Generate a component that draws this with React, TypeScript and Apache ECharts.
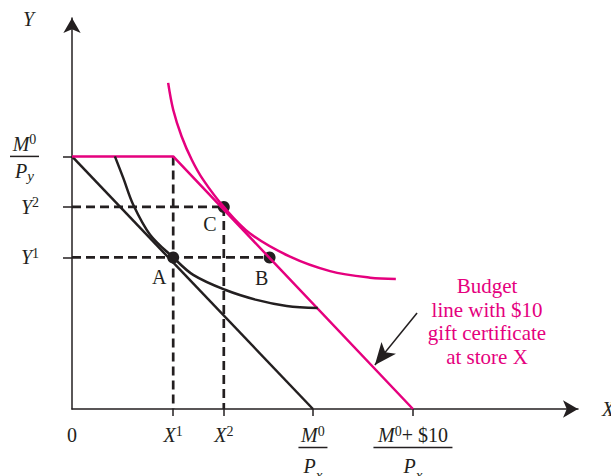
import React, { useEffect, useRef } from 'react';
import * as echarts from 'echarts';

const INK = '#231f20';
const MAGENTA = '#e5007e';
const FONT = 'Liberation Serif';

const X_MAX = 21.0;
const Y_MAX = 15.48;

const X_TICK_VALUES = [4.2, 6.3, 10, 14.15];
const X_LABEL_VALUES = [0, 4.2, 6.3, 10, 14.15];
const X_LABEL_TEXTS = [
  '{n|0}',
  '{i|X}{sup|1}',
  '{i|X}{sup|2}',
  '{i|M}{sup|0}\n{bar|}\n{d|P}{sub|x}',
  '{i|M}{sup|0}{n|+ $10}\n{barW|}\n{d|P}{sub|x}',
];
const Y_TICK_VALUES = [6, 8, 10];
const Y_LABEL_TEXTS = [
  '{i|Y}{sup|1}',
  '{i|Y}{sup|2}',
  '{sp| }\n{i|M}{sup|0}\n{bar|}\n{d|P}{sub|y}',
];

const BUDGET_ORIGINAL = [[0, 10], [10, 0]];
const BUDGET_GIFT = [[0, 10], [4.2, 10], [14.15, 0]];
const INDIFF_1 = [
  [1.78, 10.0], [2.13, 9.14], [2.54, 8.09], [3.24, 6.9], [4.2, 6.0],
  [5.03, 5.31], [6.35, 4.72], [7.66, 4.32], [8.91, 4.08], [10.2, 4.0],
];
const INDIFF_2 = [
  [3.99, 12.91], [4.2, 11.85], [4.55, 10.79], [4.97, 9.87], [5.44, 9.08],
  [6.3, 8.0], [7.39, 6.95], [9.05, 6.03], [10.71, 5.46], [12.37, 5.2], [13.44, 5.15],
];
const DASH_X1 = [[4.2, 10], [4.2, 0]];
const DASH_X2 = [[6.3, 8], [6.3, 0]];
const DASH_Y2 = [[0, 8], [6.3, 8]];
const DASH_Y1 = [[0, 6], [8.2, 6]];
const POINT_NAMES = ['A', 'B', 'C'];
const POINT_VALUES = [[4.2, 6], [8.2, 6], [6.3, 8]];
const POINT_LABEL_OFFSETS = [[-14, 20], [-8, 21], [-14, 17]];
const ARROW = [[14.32, 3.8], [12.57, 1.74]];
const NOTE = 'Budget\nline with $10\ngift certificate\nat store X';

const base = { fontFamily: FONT, color: INK, align: 'center' as const };
const rich = {
  n: { ...base, fontSize: 20, lineHeight: 22 },
  i: { ...base, fontSize: 20, lineHeight: 22, fontStyle: 'italic' },
  sup: { ...base, fontSize: 14, verticalAlign: 'top' },
  sub: { ...base, fontSize: 15, verticalAlign: 'bottom', fontStyle: 'italic' },
  bar: { ...base, fontSize: 1, width: 29, height: 1.5, lineHeight: 3, backgroundColor: INK },
  barW: { ...base, fontSize: 1, width: 79, height: 1.5, lineHeight: 3, backgroundColor: INK },
  sp: { ...base, fontSize: 1, lineHeight: 4 },
};
const richX = { ...rich, d: { ...base, fontSize: 20, lineHeight: 33, fontStyle: 'italic' } };
const richY = { ...rich, d: { ...base, fontSize: 20, lineHeight: 26, fontStyle: 'italic' } };

function pick(values: number[], texts: string[], v: number) {
  let best = 0;
  values.forEach((x, k) => {
    if (Math.abs(x - v) < Math.abs(values[best] - v)) best = k;
  });
  return texts[best];
}

const solid = (data: number[][], color: string, smooth: number | boolean = false) => ({
  type: 'line',
  data,
  smooth,
  symbol: 'none',
  showSymbol: false,
  silent: true,
  lineStyle: { color, width: 2.5 },
});
const dashed = (data: number[][]) => ({
  type: 'line',
  data,
  symbol: 'none',
  showSymbol: false,
  silent: true,
  lineStyle: { color: INK, width: 2.7, type: [9, 5] },
});

export default function App() {
  const ref = useRef<HTMLDivElement>(null);
  useEffect(() => {
    document.body.style.margin = '0';
    const chart = echarts.init(ref.current!, undefined, { renderer: 'svg' });
    chart.setOption({
      animation: false,
      backgroundColor: '#ffffff',
      grid: { left: 72, right: 33, top: 18, bottom: 67, containLabel: false, outerBoundsMode: 'none' },
      xAxis: {
        type: 'value',
        min: 0,
        max: X_MAX,
        name: 'X',
        nameLocation: 'end',
        nameGap: 24,
        nameMoveOverlap: false,
        nameTextStyle: { fontFamily: FONT, fontSize: 20, fontStyle: 'italic', color: INK, align: 'left', verticalAlign: 'middle' },
        axisLine: { show: true, symbol: ['none', 'arrow'], symbolSize: [13, 15], lineStyle: { color: INK, width: 1.5 } },
        axisTick: { show: true, customValues: X_TICK_VALUES, length: 7, lineStyle: { color: INK, width: 1.5 } },
        axisLabel: {
          show: true,
          customValues: X_LABEL_VALUES,
          margin: 15,
          verticalAlign: 'top',
          formatter: (v: number) => pick(X_LABEL_VALUES, X_LABEL_TEXTS, v),
          rich: richX,
        },
        splitLine: { show: false },
      },
      yAxis: {
        type: 'value',
        min: 0,
        max: Y_MAX,
        name: 'Y',
        nameLocation: 'end',
        nameGap: -1,
        nameMoveOverlap: false,
        nameTextStyle: { fontFamily: FONT, fontSize: 20, fontStyle: 'italic', color: INK, align: 'right', verticalAlign: 'middle', padding: [0, 38, 0, 0] },
        axisLine: { show: true, symbol: ['none', 'arrow'], symbolSize: [13, 15], lineStyle: { color: INK, width: 1.5 } },
        axisTick: { show: true, customValues: Y_TICK_VALUES, length: 9, lineStyle: { color: INK, width: 1.5 } },
        axisLabel: {
          show: true,
          customValues: Y_TICK_VALUES,
          margin: 33,
          formatter: (v: number) => pick(Y_TICK_VALUES, Y_LABEL_TEXTS, v),
          rich: richY,
        },
        splitLine: { show: false },
      },
      graphic: [
        {
          type: 'text',
          x: 487,
          y: 274,
          silent: true,
          style: {
            text: NOTE,
            fill: MAGENTA,
            fontFamily: FONT,
            fontSize: 21,
            lineHeight: 23.7,
            align: 'center',
            verticalAlign: 'top',
          },
        },
      ],
      series: [
        dashed(DASH_X1),
        dashed(DASH_X2),
        dashed(DASH_Y2),
        dashed(DASH_Y1),
        solid(BUDGET_ORIGINAL, INK),
        {
          ...solid(BUDGET_GIFT, MAGENTA),
          markLine: {
            silent: true,
            symbol: ['none', 'arrow'],
            symbolSize: [14, 22],
            label: { show: false },
            lineStyle: { color: INK, width: 1.5, type: 'solid' },
            data: [[{ coord: ARROW[0] }, { coord: ARROW[1] }]],
          },
        },
        solid(INDIFF_1, INK, 0.35),
        solid(INDIFF_2, MAGENTA, 0.35),
        {
          type: 'scatter',
          silent: true,
          symbol: 'circle',
          symbolSize: 12,
          itemStyle: { color: INK, opacity: 1 },
          data: POINT_VALUES.map((p, k) => ({
            value: p,
            name: POINT_NAMES[k],
            label: {
              show: true,
              position: 'inside',
              offset: POINT_LABEL_OFFSETS[k],
              formatter: '{b}',
              fontFamily: FONT,
              fontSize: 20,
              color: INK,
              opacity: 1,
            },
          })),
        },
      ],
    });
    return () => chart.dispose();
  }, []);
  return <div ref={ref} style={{ width: 611, height: 476 }} />;
}
